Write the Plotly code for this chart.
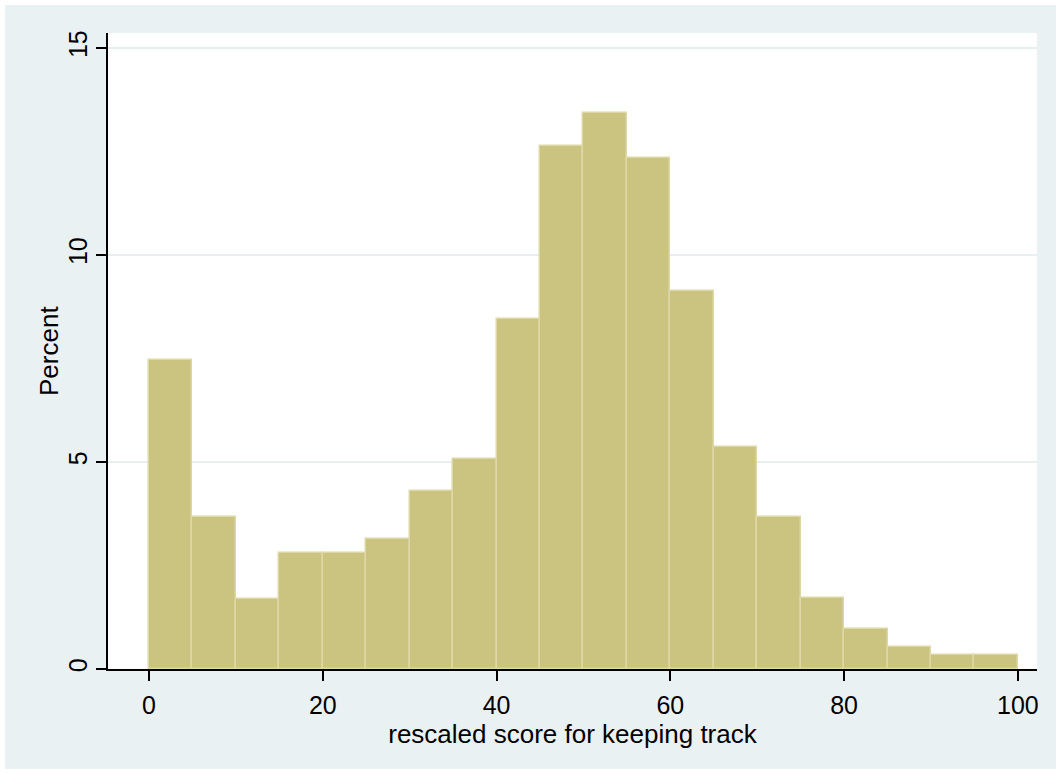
import plotly.graph_objects as go

# Histogram data (bin width 5)
bin_starts = [0, 5, 10, 15, 20, 25, 30, 35, 40, 45, 50, 55, 60, 65, 70, 75, 80, 85, 90, 95]
percent = [7.46, 3.66, 1.70, 2.79, 2.79, 3.13, 4.30, 5.07, 8.45, 12.62, 13.44, 12.34,
           9.13, 5.36, 3.67, 1.71, 0.97, 0.52, 0.33, 0.33]
bin_width = 5
x_ticks = [0, 20, 40, 60, 80, 100]
y_ticks = [0, 5, 10, 15]

FONT = "Arial, Liberation Sans, Helvetica, sans-serif"
BG = "#EAF1F3"

W, H = 1061, 774
ml, mr, mt, mb = 108, 24, 33, 105
pw, ph = W - ml - mr, H - mt - mb

def px_x(p):
    return (p - ml) / pw

def px_y(p):
    return (H - mb - p) / ph

fig = go.Figure()
fig.add_trace(go.Bar(
    x=[b + bin_width / 2 for b in bin_starts],
    y=percent,
    width=[bin_width] * len(bin_starts),
    marker=dict(color="#CBC380", line=dict(color="#DDD8A6", width=1.5)),
    showlegend=False,
))

fig.update_layout(
    width=W, height=H,
    margin=dict(l=ml, r=mr, t=mt, b=mb),
    paper_bgcolor="white",
    plot_bgcolor="white",
    font=dict(family=FONT, size=25, color="black"),
    bargap=0,
    shapes=[
        dict(type="rect", xref="paper", yref="paper", layer="below",
             x0=px_x(5), x1=px_x(W - 5), y0=px_y(H - 5), y1=px_y(5),
             fillcolor=BG, line=dict(width=0)),
        dict(type="rect", xref="paper", yref="paper", layer="below",
             x0=0, x1=1, y0=0, y1=1,
             fillcolor="white", line=dict(width=0)),
    ],
    annotations=[
        dict(text="Percent", xref="paper", yref="paper", x=px_x(49), y=0.5,
             xanchor="center", yanchor="middle", textangle=-90, showarrow=False,
             font=dict(size=26, family=FONT, color="black")),
    ],
)

fig.update_xaxes(
    range=[-4.72, 102.2],
    tickvals=x_ticks,
    ticks="outside", ticklen=10, tickwidth=1.5, tickcolor="black",
    showline=True, linecolor="black", linewidth=2,
    showgrid=False, zeroline=False,
    tickfont=dict(size=25),
    ticklabelstandoff=3,
    title=dict(text="rescaled score for keeping track", font=dict(size=26), standoff=2),
)
fig.update_yaxes(
    range=[0, 15.36],
    tickvals=y_ticks,
    tickangle=-90,
    ticks="outside", ticklen=10, tickwidth=1.5, tickcolor="black",
    showline=True, linecolor="black", linewidth=1.5,
    showgrid=True, gridcolor="#E8EFF1", gridwidth=1.5,
    zeroline=False,
    tickfont=dict(size=25),
    ticklabelstandoff=-1,
)

fig.write_html("out.html")
